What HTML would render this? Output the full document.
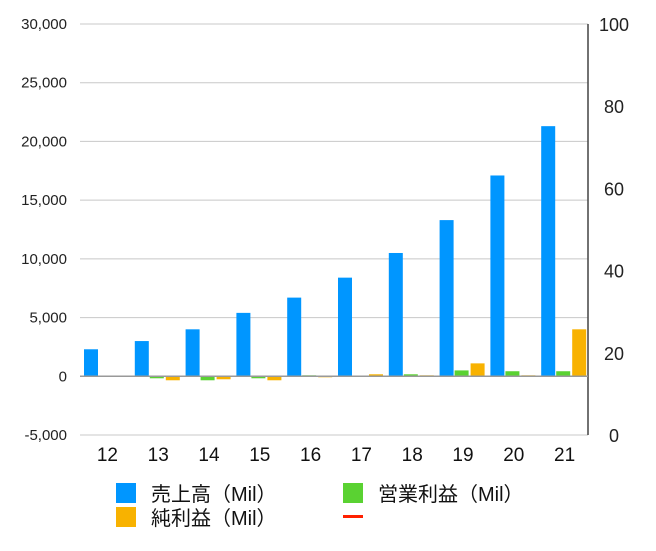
<!DOCTYPE html>
<html><head><meta charset="utf-8"><style>
body{margin:0;background:#fff;font-family:"Liberation Sans","Noto Sans CJK JP",sans-serif}
svg text{font-family:"Liberation Sans","Noto Sans CJK JP",sans-serif}
</style></head><body>
<svg id="chart" width="656" height="546" xmlns="http://www.w3.org/2000/svg"></svg>
<script>
const categories=["12","13","14","15","16","17","18","19","20","21"];
const sales=[2300,3000,4000,5400,6700,8400,10500,13300,17100,21300];
const opProfit=[0,-170,-340,-170,85,0,170,500,430,430];
const netProfit=[0,-340,-255,-340,-85,170,85,1100,85,4000];
const leftTicks=[-5000,0,5000,10000,15000,20000,25000,30000];
const rightTicks=[0,20,40,60,80,100];
const NS="http://www.w3.org/2000/svg";
const svg=document.getElementById('chart');
const X0=80,X1=588,Y0=435,Y1=24;
const yL=v=>Y0-(v+5000)/35000*(Y0-Y1);
const yR=v=>Y0-v/100*(Y0-Y1);
const gw=(X1-X0)/categories.length;
function el(t,a,txt){const e=document.createElementNS(NS,t);for(const k in a)e.setAttribute(k,a[k]);if(txt!=null)e.textContent=txt;svg.appendChild(e);return e;}
leftTicks.forEach(v=>{
 const g=el('line',{x1:X0,x2:X1,y1:yL(v),y2:yL(v),stroke:'#c8c8c8','stroke-width':1});
 
 
 const t=el('text',{x:67,y:yL(v)+5,'text-anchor':'end','font-size':15,fill:'#222'},v.toLocaleString('en-US'));
 
 
});
rightTicks.forEach(v=>{
 const t=el('text',{x:614,y:yR(v)+7,'text-anchor':'middle','font-size':18,fill:'#222'},String(v));
 
 
});
const ax=el('line',{x1:X1,x2:X1,y1:Y1,y2:Y0,stroke:'#444','stroke-width':1.5});


const series=[[sales,'#0096ff',4,'sales'],[opProfit,'#5ad232',19,'operating-profit'],[netProfit,'#f8b200',35,'net-profit']];
categories.forEach((c,i)=>{
 const gx=X0+i*gw;
 series.forEach(([arr,col,off,nm])=>{
  const v=arr[i];if(v===0)return;
  const y=Math.min(yL(v),yL(0)),h=Math.abs(yL(v)-yL(0));
  const r=el('rect',{x:gx+off,y:y,width:14,height:Math.max(h,1),fill:col});
  
  
 });
 const t=el('text',{x:gx+gw/2+2,y:461,'text-anchor':'middle','font-size':19,fill:'#111'},c);
 
 
});
const z=el('line',{x1:X0,x2:X1,y1:yL(0),y2:yL(0),stroke:'#999','stroke-width':1.5});


const legend=[[116,494,'#0096ff','売上高（Mil）','rect'],[343,494,'#5ad232','営業利益（Mil）','rect'],[116,518,'#f8b200','純利益（Mil）','rect'],[343,518,'#ff2000','','line']];
legend.forEach(([x,y,col,label,kind])=>{
 let m;
 if(kind==='rect') m=el('rect',{x:x,y:y-11,width:20,height:20,fill:col});
 else m=el('rect',{x:x,y:y-3,width:20,height:3,fill:col});
 
 
 if(label){const t=el('text',{x:x+35,y:y+7,'font-size':20,fill:'#111'},label);
 
 }
});
</script>
</body></html>
